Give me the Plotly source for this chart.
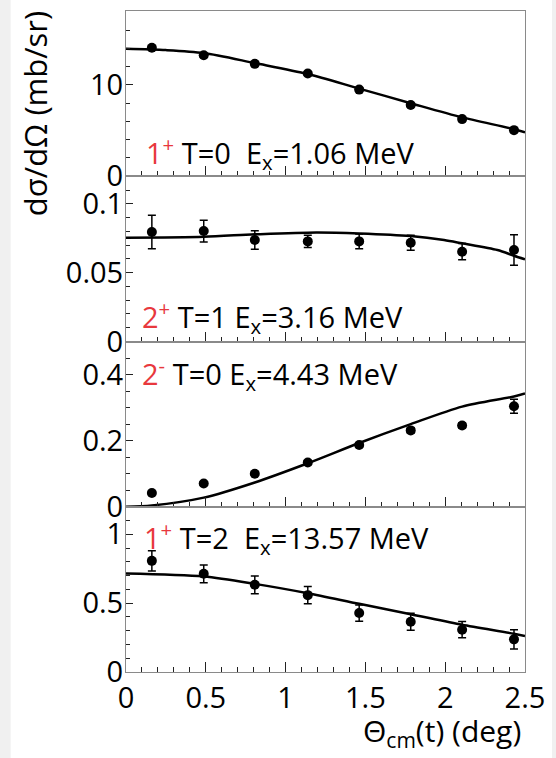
import plotly.graph_objects as go
from plotly.subplots import make_subplots

# measured angles (deg)
theta = [0.162, 0.487, 0.807, 1.139, 1.461, 1.784, 2.106, 2.431]

# panel 1: 1+ T=0 Ex=1.06 MeV
y1 = [14.07, 13.26, 12.31, 11.25, 9.49, 7.80, 6.26, 5.05]
e1 = [0.2, 0.2, 0.2, 0.2, 0.2, 0.2, 0.2, 0.2]
# panel 2: 2+ T=1 Ex=3.16 MeV
y2 = [0.0795, 0.0802, 0.0737, 0.0727, 0.0727, 0.0717, 0.0652, 0.0664]
e2 = [0.0122, 0.0079, 0.0067, 0.0045, 0.0053, 0.0054, 0.0059, 0.0111]
# panel 3: 2- T=0 Ex=4.43 MeV
y3 = [0.0418, 0.0704, 0.100, 0.134, 0.187, 0.231, 0.246, 0.304]
e3 = [0.004, 0.004, 0.005, 0.006, 0.007, 0.008, 0.008, 0.021]
# panel 4: 1+ T=2 Ex=13.57 MeV
y4 = [0.807, 0.713, 0.633, 0.558, 0.428, 0.365, 0.307, 0.237]
e4 = [0.074, 0.064, 0.065, 0.063, 0.059, 0.062, 0.059, 0.070]

# calculated curves
c1_x = [0, 0.25, 0.487, 0.807, 1.139, 1.461, 1.784, 2.106, 2.431, 2.5]
c1_y = [13.96, 13.82, 13.5, 12.4, 11.2, 9.6, 8.0, 6.45, 5.15, 4.8]
c2_x = [0, 0.487, 0.807, 1.192, 1.461, 1.784, 1.993, 2.106, 2.327, 2.431, 2.5]
c2_y = [0.0754, 0.0761, 0.0778, 0.0792, 0.0785, 0.0766, 0.0737, 0.0713, 0.0664, 0.0623, 0.0597]
c3_x = [0, 0.162, 0.487, 0.807, 1.139, 1.461, 1.784, 2.106, 2.431, 2.5]
c3_y = [0, 0.004, 0.0276, 0.0735, 0.1316, 0.1929, 0.25, 0.303, 0.3337, 0.343]
c4_x = [0, 0.487, 0.807, 1.139, 1.461, 1.784, 2.106, 2.431, 2.5]
c4_y = [0.715, 0.693, 0.640, 0.572, 0.495, 0.420, 0.343, 0.278, 0.261]

labels = [
    ("1", "+", "T=0&nbsp;&nbsp;E<sub>x</sub>=1.06 MeV"),
    ("2", "+", "T=1 E<sub>x</sub>=3.16 MeV"),
    ("2", "-", "T=0 E<sub>x</sub>=4.43 MeV"),
    ("1", "+", "T=2&nbsp;&nbsp;E<sub>x</sub>=13.57 MeV"),
]
label_pos = [(0.112, 2.6), (0.09, 0.0179), (0.09, 0.403), (0.1, 0.973)]

yranges = [[0, 18.1], [0, 0.12], [0, 0.5], [0, 1.2]]
ydticks = [10, 0.05, 0.2, 0.5]
yminor = [2, 0.01, 0.05, 0.1]

FONT = "Open Sans"
RED = "#e8383d"

fig = make_subplots(rows=4, cols=1, shared_xaxes=True, vertical_spacing=0)

data = [(y1, e1, c1_x, c1_y), (y2, e2, c2_x, c2_y), (y3, e3, c3_x, c3_y), (y4, e4, c4_x, c4_y)]
for i, (y, e, cx, cy) in enumerate(data):
    r = i + 1
    fig.add_trace(go.Scatter(x=cx, y=cy, mode="lines", line=dict(color="black", width=2.5, shape="spline", smoothing=0.8),
                             showlegend=False), row=r, col=1)
    fig.add_trace(go.Scatter(x=theta, y=y, mode="markers", marker=dict(color="black", size=10),
                             error_y=dict(type="data", array=e, color="black", thickness=1.5, width=4),
                             showlegend=False), row=r, col=1)
    fig.update_yaxes(range=yranges[i], dtick=ydticks[i], tick0=0, ticks="inside", ticklen=7, tickwidth=1,
                     tickcolor="#222", minor=dict(dtick=yminor[i], ticks="inside", ticklen=4, tickcolor="#222"),
                     showline=True, linecolor="#8a8a8a", linewidth=1, mirror=True, showgrid=False, zeroline=False,
                     ticklabelstandoff=-4, tickfont=dict(size=29, color="black", family=FONT), row=r, col=1)
    fig.update_xaxes(range=[0, 2.5], dtick=0.5, tick0=0, ticks="inside", ticklen=10, tickwidth=1, tickcolor="#222",
                     minor=dict(dtick=0.1, ticks="inside", ticklen=5, tickcolor="#222"),
                     showline=True, linecolor="#8a8a8a", linewidth=1, mirror=True, showgrid=False, zeroline=False,
                     ticklabelstandoff=0, tickfont=dict(size=29, color="black", family=FONT), row=r, col=1)
    num, sign, rest = labels[i]
    lx, ly = label_pos[i]
    fig.add_annotation(x=lx, y=ly, xref=f"x{'' if r == 1 else r}", yref=f"y{'' if r == 1 else r}",
                       text=f"<span style='color:{RED}'>{num}<sup>{sign}</sup></span> {rest}",
                       showarrow=False, xanchor="left", yanchor="middle",
                       font=dict(size=29, color="black", family=FONT))

# axis titles
fig.add_annotation(x=-0.229, y=1.003, xref="paper", yref="paper", text="dσ/dΩ (mb/sr)", textangle=-90,
                   showarrow=False, xanchor="center", yanchor="top", font=dict(size=31, color="black", family=FONT))
fig.add_annotation(x=0.995, y=-0.0914, xref="paper", yref="paper", text="Θ<sub>cm</sub>(t) (deg)",
                   showarrow=False, xanchor="right", yanchor="middle", font=dict(size=30, color="black", family=FONT))

# white page with thin grey margins
fig.add_shape(type="rect", xref="paper", yref="paper", x0=-0.289, x1=1.0676, y0=-0.2, y1=1.1,
              fillcolor="white", line=dict(width=0), layer="below")

fig.update_layout(width=556, height=758, margin=dict(l=125.5, r=31, t=10.5, b=85.5),
                  paper_bgcolor="#f0f0f0", plot_bgcolor="white", font=dict(family=FONT))

fig.write_html("out.html", config={"displayModeBar": False},
               post_script="document.body.style.margin='0px';")
